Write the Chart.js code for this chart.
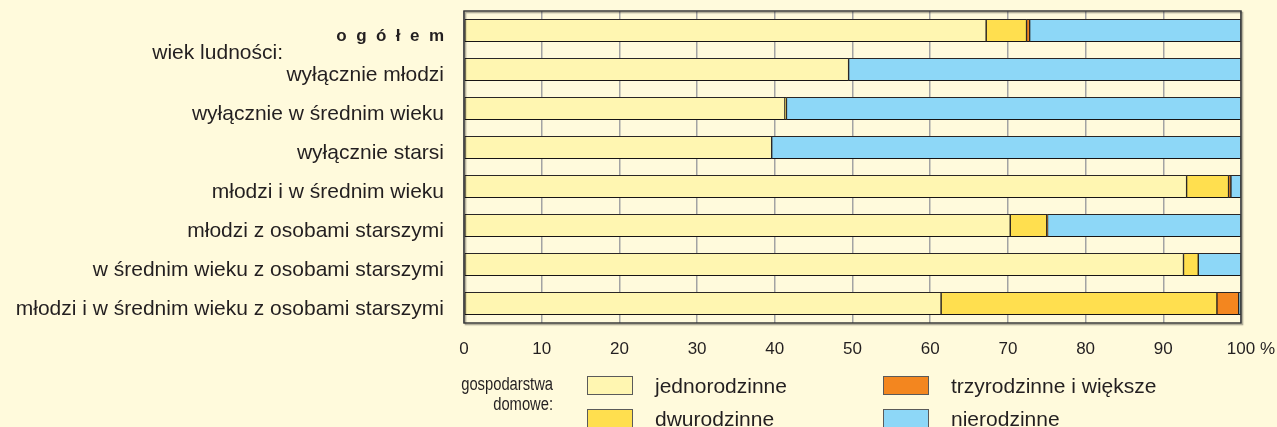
<!DOCTYPE html>
<html lang="pl">
<head>
<meta charset="utf-8">
<title>Gospodarstwa domowe według wieku ludności</title>
<script src="https://cdn.jsdelivr.net/npm/chart.js@4.4.1/dist/chart.umd.min.js"></script>
<style>
  html, body { margin: 0; padding: 0; background: #fffadc; }
  #wrap { position: relative; width: 1277px; height: 427px; overflow: hidden; }
  #wrap canvas { position: absolute; left: 0; top: 0; }
  .leg-title {
    position: absolute; right: 724px; top: 374px; text-align: right;
    font: 18px 'Liberation Sans', sans-serif; line-height: 20px; color: #231f20;
    transform: scaleX(0.82); transform-origin: right center;
  }
  #legend {
    position: absolute; left: 587px; top: 376px; display: grid;
    grid-auto-flow: column; grid-template-rows: 19px 19px; grid-template-columns: 296px 296px; row-gap: 14px;
  }
  .leg-item { display: flex; align-items: center; font: 21px 'Liberation Sans', sans-serif; color: #231f20; white-space: nowrap; }
  .leg-box  { width: 44px; height: 17px; border: 1px solid #5a5a5a; margin-right: 22px; flex: none; }
</style>
</head>
<body>
<div id="wrap">
  <canvas id="barChart"></canvas>
  <div class="leg-title">gospodarstwa<br>domowe:</div>
  <div id="legend"></div>
</div>
<script>
// ── dane (udział gospodarstw domowych, %) ─────────────────────
const CATEGORIES = [
  'ogółem',
  'wyłącznie młodzi',
  'wyłącznie w średnim wieku',
  'wyłącznie starsi',
  'młodzi i w średnim wieku',
  'młodzi z osobami starszymi',
  'w średnim wieku z osobami starszymi',
  'młodzi i w średnim wieku z osobami starszymi',
];
const JEDNORODZINNE = [67.2, 49.5, 41.3, 39.6, 93.0, 70.3, 92.6, 61.4];
const DWURODZINNE   = [ 5.2,  0.0,  0.2,  0.0,  5.4,  4.7,  1.9, 35.5];
const TRZYRODZINNE  = [ 0.4,  0.0,  0.0,  0.0,  0.3,  0.1,  0.0,  2.8];
const NIERODZINNE   = [27.2, 50.5, 58.5, 60.4,  1.3, 24.9,  5.5,  0.3];

const SERIES_LABELS = ['jednorodzinne', 'dwurodzinne', 'trzyrodzinne i większe', 'nierodzinne'];
const SERIES_DATA   = [JEDNORODZINNE, DWURODZINNE, TRZYRODZINNE, NIERODZINNE];
const SERIES_COLORS = ['#fff6b1', '#ffdf4f', '#f3861f', '#8dd7f7'];

const GROUP_LABEL = 'wiek ludności:';
const X_MAX  = 100;
const X_STEP = 10;

const TEXT_COLOR = '#231f20';
const FONT       = "'Liberation Sans', Arial, sans-serif";
const TICK_FONT  = { family: FONT, size: 17 };
const X_PAD      = 16;

// ── cień pod słupkami + ramka ─────────────────────────────────
const barShadow = {
  id: 'barShadow',
  beforeDatasetsDraw(chart) {
    const ctx = chart.ctx;
    ctx.save();
    ctx.shadowColor = 'rgba(0,0,0,0.45)';
    ctx.shadowOffsetY = 2;
    ctx.shadowBlur = 1;
  },
  afterDatasetsDraw(chart) {
    const ctx = chart.ctx;
    ctx.restore();

    const a = chart.chartArea;
    ctx.save();
    ctx.shadowColor = 'rgba(0,0,0,0.35)';
    ctx.shadowOffsetX = 1.5;
    ctx.shadowOffsetY = 1.5;
    ctx.shadowBlur = 1;
    ctx.strokeStyle = '#3a3a3a';
    ctx.lineWidth = 1.5;
    ctx.strokeRect(a.left, a.top, a.right - a.left, a.bottom - a.top);
    ctx.restore();
  },
};

// ── napis grupy + znak % przy ostatniej wartości osi ─────────
const extraText = {
  id: 'extraText',
  afterDraw(chart) {
    const ctx = chart.ctx;
    const y = chart.scales.y, x = chart.scales.x;
    ctx.save();
    ctx.fillStyle = TEXT_COLOR;

    ctx.font = `21px ${FONT}`;
    ctx.textAlign = 'right';
    ctx.textBaseline = 'middle';
    ctx.fillText(GROUP_LABEL, 283, (y.getPixelForTick(0) + y.getPixelForTick(1)) / 2 + 3);

    ctx.font = `${TICK_FONT.size}px ${TICK_FONT.family}`;
    const px = x.getPixelForValue(X_MAX);
    const w  = ctx.measureText(String(X_MAX)).width;
    ctx.textAlign = 'left';
    ctx.fillText(' %', px + w / 2, x.top + X_PAD + TICK_FONT.size * 1.2 / 2);
    ctx.restore();
  },
};

new Chart(document.getElementById('barChart'), {
  type: 'bar',
  data: {
    labels: CATEGORIES,
    datasets: SERIES_DATA.map((d, i) => ({
      label: SERIES_LABELS[i],
      data: d,
      backgroundColor: SERIES_COLORS[i],
      borderColor: '#2a2626',
      borderWidth: 1,
      borderSkipped: false,
      barThickness: 22.5,
    })),
  },
  options: {
    indexAxis: 'y',
    responsive: true, maintainAspectRatio: false,
    animation: false,
    layout: { padding: { left: 0, top: 11, right: 36, bottom: 0 } },
    plugins: { legend: { display: false }, tooltip: { enabled: false } },
    scales: {
      x: {
        stacked: true, min: 0, max: X_MAX,
        border: { display: false },
        grid: { color: '#a3a3a3', lineWidth: 1.5, drawTicks: false },
        ticks: {
          stepSize: X_STEP, padding: X_PAD, maxRotation: 0,
          font: TICK_FONT, color: TEXT_COLOR,
        },
        afterFit: s => { s.height = 104; s.paddingLeft = 0; s.paddingRight = 0; },
      },
      y: {
        stacked: true,
        border: { display: false },
        grid: { display: false, drawTicks: false },
        ticks: {
          padding: 20, labelOffset: 6, color: TEXT_COLOR,
          font: c => c.index === 0 ? { family: FONT, size: 17, weight: 'bold' } : { family: FONT, size: 21 },
          callback: (v, i) => i === 0 ? CATEGORIES[i].split('').join('  ') : CATEGORIES[i],
        },
        afterFit: s => { s.width = 464; s.paddingTop = 0; s.paddingBottom = 0; },
      },
    },
  },
  plugins: [barShadow, extraText],
});

document.getElementById('legend').innerHTML = SERIES_LABELS
  .map((l, i) => `<div class="leg-item"><div class="leg-box" style="background:${SERIES_COLORS[i]}"></div>${l}</div>`)
  .join('');
</script>
</body>
</html>
